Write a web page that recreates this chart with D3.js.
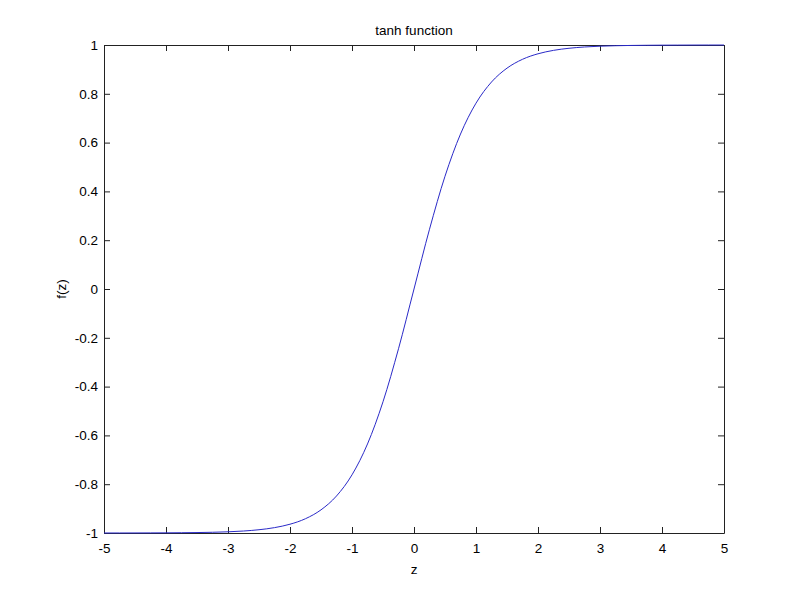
<!DOCTYPE html>
<html>
<head>
<meta charset="utf-8">
<script src="https://cdn.jsdelivr.net/npm/d3@7"></script>
<style>
  body { margin: 0; background: #fff; }
  text { font-family: "Liberation Sans", Arial, sans-serif; fill: #000; }
</style>
</head>
<body>
<div id="chart"></div>
<script>
// values
var zValues = [-5, -4.75, -4.5, -4.25, -4, -3.75, -3.5, -3.25, -3, -2.75, -2.5, -2.25, -2,
  -1.75, -1.5, -1.25, -1, -0.75, -0.5, -0.25, 0, 0.25, 0.5, 0.75, 1, 1.25, 1.5, 1.75,
  2, 2.25, 2.5, 2.75, 3, 3.25, 3.5, 3.75, 4, 4.25, 4.5, 4.75, 5];
var fValues = [-0.9999, -0.9999, -0.9998, -0.9996, -0.9993, -0.9989, -0.9982, -0.997, -0.9951,
  -0.9919, -0.9866, -0.978, -0.964, -0.9414, -0.9051, -0.8483, -0.7616, -0.6351, -0.4621,
  -0.2449, 0, 0.2449, 0.4621, 0.6351, 0.7616, 0.8483, 0.9051, 0.9414, 0.964, 0.978, 0.9866,
  0.9919, 0.9951, 0.997, 0.9982, 0.9989, 0.9993, 0.9996, 0.9998, 0.9999, 0.9999];
var xTicks = [-5, -4, -3, -2, -1, 0, 1, 2, 3, 4, 5];
var yTicks = [-1, -0.8, -0.6, -0.4, -0.2, 0, 0.2, 0.4, 0.6, 0.8, 1];

var margin = {top: 45, right: 76, bottom: 67, left: 104};
var width = 800 - margin.left - margin.right;
var height = 600 - margin.top - margin.bottom;

var svg = d3.select("#chart").append("svg")
    .attr("width", 800)
    .attr("height", 600);

var g = svg.append("g")
    .attr("transform", "translate(" + margin.left + "," + margin.top + ")");

var x = d3.scaleLinear().domain([-5, 5]).range([0, width]);
var y = d3.scaleLinear().domain([-1, 1]).range([height, 0]);

// plain hyphen minus, like the original plot
var fmt = function(d) { return String(d); };

// inward ticks on all four sides
var xAxis = d3.axisBottom(x).tickValues(xTicks).tickSizeInner(-6).tickSizeOuter(0).tickPadding(10)
    .tickFormat(fmt);
var yAxis = d3.axisLeft(y).tickValues(yTicks).tickSizeInner(-6).tickSizeOuter(0).tickPadding(6)
    .tickFormat(fmt);

g.append("g").attr("transform", "translate(0," + height + ")").call(xAxis);
g.append("g").call(yAxis);
g.append("g").call(d3.axisTop(x).tickValues(xTicks).tickSizeInner(-6).tickSizeOuter(0).tickFormat(""));
g.append("g").attr("transform", "translate(" + width + ",0)")
    .call(d3.axisRight(y).tickValues(yTicks).tickSizeInner(-6).tickSizeOuter(0).tickFormat(""));

g.selectAll(".domain").attr("stroke", "#222");
g.selectAll(".tick line").attr("stroke", "#222");
g.selectAll(".tick text").style("font-size", "13.5px");

var pts = zValues.map(function(z, i) { return [z, fValues[i]]; });
g.append("path")
    .datum(pts)
    .attr("fill", "none")
    .attr("stroke", "#2a2ac8")
    .attr("stroke-width", 1)
    .attr("d", d3.line()
        .x(function(d) { return x(d[0]); })
        .y(function(d) { return y(d[1]); })
        .curve(d3.curveMonotoneX));

svg.append("text")
    .attr("x", margin.left + width / 2)
    .attr("y", 35)
    .attr("text-anchor", "middle")
    .style("font-size", "13.5px")
    .text("tanh function");

svg.append("text")
    .attr("x", margin.left + width / 2)
    .attr("y", 574)
    .attr("text-anchor", "middle")
    .style("font-size", "13.5px")
    .text("z");

svg.append("text")
    .attr("transform", "translate(66," + (margin.top + height / 2) + ") rotate(-90)")
    .attr("text-anchor", "middle")
    .style("font-size", "13.5px")
    .text("f(z)");
</script>
</body>
</html>
